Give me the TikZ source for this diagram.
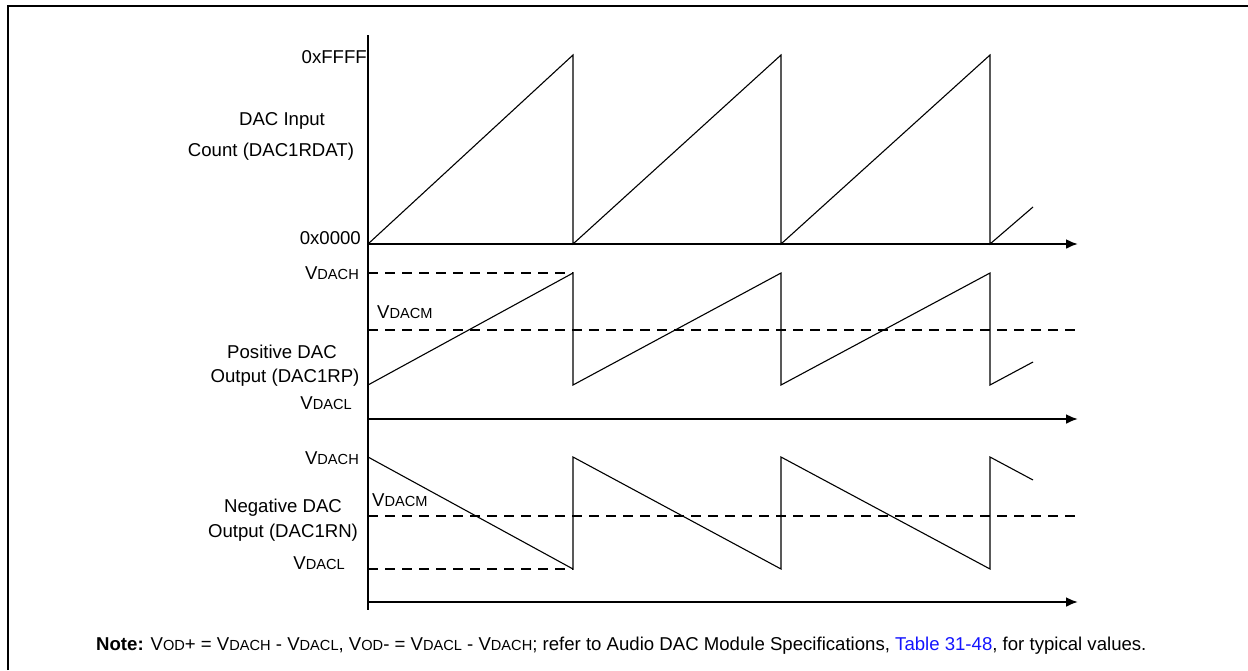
\documentclass[tikz,border=0pt]{standalone}
\usepackage{fontspec}
\setmainfont{Liberation Sans}
\usepackage{tikz}
\usetikzlibrary{arrows.meta, positioning}

\definecolor{tablink}{RGB}{20,20,255}
\newcommand{\vlev}[1]{V{\fontsize{14.6}{14.6}\selectfont #1}}

\begin{document}
\begin{tikzpicture}[x = 1pt, y = -1pt, font = \fontsize{18.6}{20}\selectfont,
		every node/.append style = {inner sep = 0pt},
		axis/.style = {line width = 2.3pt, -{Latex[length = 12pt, width = 10pt]}},
		wave/.style = {line width = 1.1pt},
		level/.style = {line width = 2.2pt, dash pattern = on 10pt off 7pt}]
			\useasboundingbox (0,0) rectangle (1248,670);
			\draw[line width = 2.2pt] (8,670) -- (8,6) -- (1248,6);
		
			\coordinate (top) at (368,35);
			\coordinate (bot) at (368,610);
			\coordinate (o1) at (368,244);
			\coordinate (o2) at (368,419);
			\coordinate (o3) at (368,602);
			\coordinate (e1) at (1078,244);
			\coordinate (e2) at (1078,419);
			\coordinate (e3) at (1078,602);
		
			\node[anchor = east] (ffff) at (367,57) {0xFFFF};
			\node[anchor = east] (zero) at (361,238) {0x0000};
			\node (in1) at (282,121) {DAC Input};
			\node (in2) at (271,152) {Count (DAC1RDAT)};
		
			\node[anchor = east] (ph) at (359,273) {\vlev{DACH}};
			\node[anchor = west] (pm) at (377,312) {\vlev{DACM}};
			\node (pos1) at (282,352) {Positive DAC};
			\node (pos2) at (285,378) {Output (DAC1RP)};
			\node[anchor = east] (pl) at (352,403) {\vlev{DACL}};
		
			\node[anchor = east] (nh) at (359,458) {\vlev{DACH}};
			\node[anchor = west] (nm) at (372,500) {\vlev{DACM}};
			\node (neg1) at (283,508) {Negative DAC};
			\node (neg2) at (283,533) {Output (DAC1RN)};
			\node[anchor = east] (nl) at (345,563) {\vlev{DACL}};
		
			\node[anchor = west] (note) at (96,646) {\textbf{Note:} \vlev{OD}+ = \vlev{DACH} - \vlev{DACL}, \vlev{OD}- = \vlev{DACL} - \vlev{DACH}; refer to Audio DAC Module Specifications, \textcolor{tablink}{Table 31-48}, for typical values.};
		
			% axes
			\draw[line width = 2.3pt] (top) -- (bot);
			\draw[axis] (o1) -- (e1);
			\draw[axis] (o2) -- (e2);
			\draw[axis] (o3) -- (e3);
		
			% levels
			\draw[level] (368,273) -- (573,273);
			\draw[level] (368,330) -- (1082,330);
			\draw[level] (368,516) -- (1082,516);
			\draw[level] (368,569) -- (573,569);
		
			% input count
			\draw[wave] (o1) -- (573,55) -- (573,244) -- (781,55) -- (781,244) -- (990,55) -- (990,244) -- (1033,207);
			% positive output
			\draw[wave] (368,385) -- (573,273) -- (573,385) -- (781,273) -- (781,385) -- (990,273) -- (990,385) -- (1033,362);
			% negative output
			\draw[wave] (368,457) -- (573,569) -- (573,457) -- (781,569) -- (781,457) -- (990,569) -- (990,457) -- (1033,480);
		\end{tikzpicture}
\end{document}
